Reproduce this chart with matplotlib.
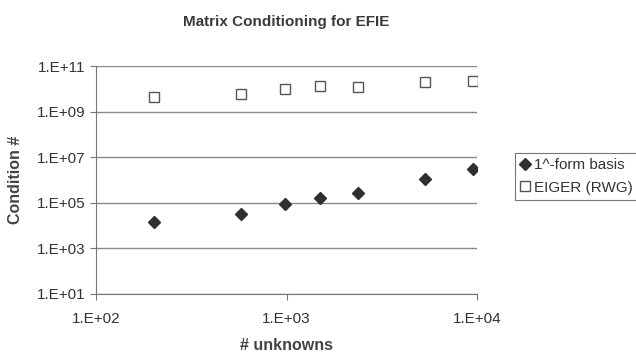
import matplotlib
matplotlib.use("Agg")
import matplotlib.pyplot as plt
from matplotlib.ticker import FixedLocator, FixedFormatter, NullLocator

plt.rcParams['font.family'] = ['Liberation Sans', 'DejaVu Sans']

# data
unknowns = [201, 575, 982, 1500, 2365, 5310, 9480]
oneform = [1.4e4, 3.3e4, 9.1e4, 1.6e5, 2.8e5, 1.1e6, 3.0e6]
eiger = [4.2e9, 5.7e9, 9.5e9, 1.29e10, 1.24e10, 1.93e10, 2.2e10]

yticks = [1e1, 1e3, 1e5, 1e7, 1e9, 1e11]
ylabels = ['1.E+01', '1.E+03', '1.E+05', '1.E+07', '1.E+09', '1.E+11']
xticks = [1e2, 1e3, 1e4]
xlabels = ['1.E+02', '1.E+03', '1.E+04']

fig = plt.figure(figsize=(6.36, 3.52), dpi=100)
ax = fig.add_axes([0.151, 0.165, 0.599, 0.6475])

ax.set_xscale('log')
ax.set_yscale('log')
ax.set_xlim(1e2, 1e4)
ax.set_ylim(1e1, 1e11)

ax.yaxis.set_major_locator(FixedLocator(yticks))
ax.yaxis.set_major_formatter(FixedFormatter(ylabels))
ax.yaxis.set_minor_locator(NullLocator())
ax.xaxis.set_major_locator(FixedLocator(xticks))
ax.xaxis.set_major_formatter(FixedFormatter(xlabels))
ax.xaxis.set_minor_locator(NullLocator())

ax.grid(axis='y', color='#8a8a8a', linewidth=1.0)
ax.set_axisbelow(True)

ax.plot(unknowns, oneform, linestyle='none', marker='D', markersize=6.5,
        color='#2f2f2f', label='1^-form basis')
ax.plot(unknowns, eiger, linestyle='none', marker='s', markersize=7.5,
        markerfacecolor='white', markeredgecolor='#555555', markeredgewidth=1.0,
        label='EIGER (RWG)')

for s in ['top', 'right']:
    ax.spines[s].set_visible(False)
for s in ['left', 'bottom']:
    ax.spines[s].set_color('#777777')
ax.tick_params(colors='#777777', labelcolor='#333333', labelsize=11, length=4)
ax.tick_params(axis='x', pad=9)

fig.text(0.4505, 0.9375, 'Matrix Conditioning for EFIE', fontsize=11, fontweight='bold',
         color='#3a3a3a', ha='center', va='center')
ax.set_xlabel('# unknowns', fontsize=11.5, fontweight='bold', color='#444444', labelpad=9)
ax.set_ylabel('Condition #', fontsize=11.5, fontweight='bold', color='#444444', labelpad=10)

leg = ax.legend(loc='upper left', bbox_to_anchor=(1.1, 0.618), fontsize=11,
                frameon=True, fancybox=False, borderpad=0.35, handlelength=0.6,
                handletextpad=0.3, labelspacing=0.55, borderaxespad=0)
leg.get_frame().set_edgecolor('#555555')
leg.get_frame().set_linewidth(0.8)
for t in leg.get_texts():
    t.set_color('#333333')

fig.savefig('out.png', dpi=100)
